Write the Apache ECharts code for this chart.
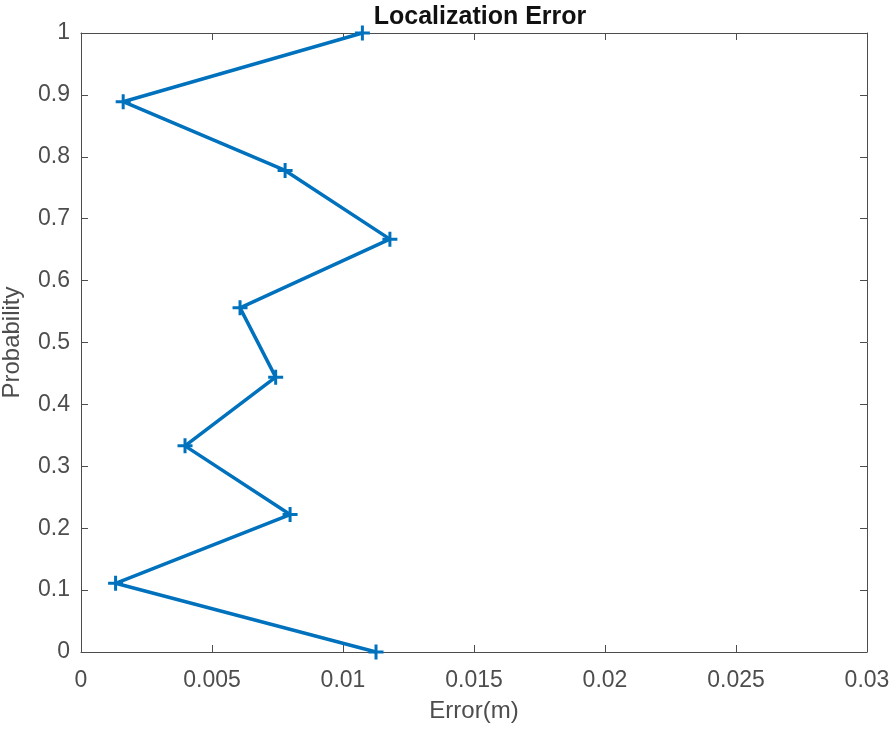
<!DOCTYPE html>
<html>
<head>
<meta charset="utf-8">
<script src="https://cdn.jsdelivr.net/npm/echarts@6/dist/echarts.min.js"></script>
<style>
  html, body { margin: 0; padding: 0; background: #fff; }
  #main { width: 892px; height: 730px; }
</style>
</head>
<body>
<div id="main"></div>
<script>
// error (m), one per probability step
var errors = [0.01126, 0.00132, 0.00798, 0.00397, 0.00743, 0.00607, 0.01179, 0.00779, 0.00161, 0.01074];
var probs = [0, 0.111, 0.222, 0.333, 0.444, 0.556, 0.667, 0.778, 0.889, 1];

var points = errors.map(function (e, i) { return [e, probs[i]]; });

var lineColor = '#4d4d4d';
var textColor = '#4d4d4d';
var labelFont = 'Liberation Sans, Arial, sans-serif';

function boxAxis(pos) {
    return {
        show: true,
        onZero: false,
        lineStyle: { color: lineColor, width: 1 }
    };
}
var tick = { show: true, inside: true, length: 7, lineStyle: { color: lineColor } };

var myChart = echarts.init(document.getElementById('main'));
var option = {
    backgroundColor: '#fff',
    animation: false,
    title: {
        text: 'Localization Error',
        left: 475,
        textAlign: 'center',
        top: 0,
        textStyle: {
            color: '#111',
            fontSize: 25,
            fontWeight: 'bold',
            fontFamily: labelFont
        }
    },
    grid: {
        left: 81,
        right: 25,
        top: 33,
        bottom: 78,
        outerBoundsMode: 'none',
        containLabel: false
    },
    xAxis: [
        {
            type: 'value',
            min: 0,
            max: 0.03,
            interval: 0.005,
            name: 'Error(m)',
            nameLocation: 'middle',
            nameGap: 47,
            nameTextStyle: { color: textColor, fontSize: 24, fontFamily: labelFont },
            axisLine: boxAxis(),
            axisTick: tick,
            axisLabel: { color: textColor, fontSize: 23, fontFamily: labelFont, margin: 17 },
            splitLine: { show: false }
        },
        {
            type: 'value',
            position: 'top',
            min: 0,
            max: 0.03,
            interval: 0.005,
            axisLine: boxAxis(),
            axisTick: tick,
            axisLabel: { show: false },
            splitLine: { show: false }
        }
    ],
    yAxis: [
        {
            type: 'value',
            min: 0,
            max: 1,
            interval: 0.1,
            name: 'Probability',
            nameLocation: 'middle',
            nameGap: 57,
            nameTextStyle: { color: textColor, fontSize: 24, fontFamily: labelFont },
            axisLine: boxAxis(),
            axisTick: tick,
            axisLabel: { color: textColor, fontSize: 23, fontFamily: labelFont, margin: 11 },
            splitLine: { show: false }
        },
        {
            type: 'value',
            position: 'right',
            min: 0,
            max: 1,
            interval: 0.1,
            axisLine: boxAxis(),
            axisTick: tick,
            axisLabel: { show: false },
            splitLine: { show: false }
        }
    ],
    series: [
        {
            type: 'line',
            data: points,
            xAxisIndex: 0,
            yAxisIndex: 0,
            symbol: 'path://M4,0h2v4h4v2h-4v4h-2v-4h-4v-2h4z',
            symbolSize: 15,
            showAllSymbol: true,
            lineStyle: { color: '#0072BD', width: 3.5 },
            itemStyle: { color: '#0072BD' }
        }
    ]
};
myChart.setOption(option);
</script>
</body>
</html>
